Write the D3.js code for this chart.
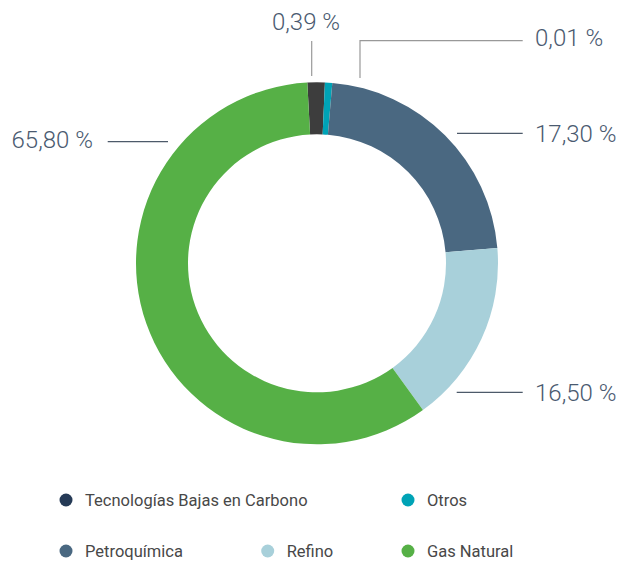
<!DOCTYPE html>
<html>
<head>
<meta charset="utf-8">
<script src="https://cdn.jsdelivr.net/npm/d3@7"></script>
<style>
  html, body { margin: 0; padding: 0; background: #fff; }
  svg { display: block; font-family: Roboto, "Noto Sans", sans-serif; }
</style>
</head>
<body>
<svg width="625" height="562"></svg>
<script>
// categorias y valores (porcentaje dibujado en el anillo) + etiquetas publicadas
var categories = ["Tecnologías Bajas en Carbono", "Otros", "Petroquímica", "Refino", "Gas Natural"];
var sliceValues = [1.55, 0.65, 22.3, 16.4, 59.1];
var valueLabels = ["0,39 %", "0,01 %", "17,30 %", "16,50 %", "65,80 %"];
var sliceColors = ["#3d3d3d", "#00a3b6", "#4a6881", "#a8d0da", "#56b046"];
var legendColors = ["#253a56", "#00a3b6", "#4a6881", "#a8d0da", "#56b046"];

var data = categories.map((c, i) => ({ name: c, value: sliceValues[i], label: valueLabels[i] }));

var svg = d3.select("svg");
var cx = 317, cy = 263.3;
var outerR = 181, innerR = 129;

var pie = d3.pie()
    .value(d => d.value)
    .sort(null)
    .startAngle(-3.07 * Math.PI / 180)
    .endAngle((360 - 3.07) * Math.PI / 180);

var arc = d3.arc().innerRadius(innerR).outerRadius(outerR);

var g = svg.append("g").attr("transform", `translate(${cx},${cy})`);
g.selectAll("path")
    .data(pie(data))
    .enter()
    .append("path")
    .attr("d", arc)
    .attr("fill", (d, i) => sliceColors[i]);

// lineas guia y etiquetas (colocadas a mano como en el original)
var annot = [
    { pts: [[311.7, 41], [311.7, 76]], tx: 306, ty: 30, anchor: "middle", stroke: "#999" },
    { pts: [[522.7, 40.7], [360, 40.7], [360, 78]], tx: 535, ty: 46, anchor: "start", stroke: "#999" },
    { pts: [[457, 133.3], [522.7, 133.3]], tx: 535, ty: 142, anchor: "start", stroke: "#4d5a6a" },
    { pts: [[456.7, 392.3], [522.7, 392.3]], tx: 535, ty: 401, anchor: "start", stroke: "#4d5a6a" },
    { pts: [[107.7, 141.7], [168, 141.7]], tx: 11.5, ty: 147.5, anchor: "start", stroke: "#4d5a6a" }
];

var line = d3.line();
svg.selectAll(".leader")
    .data(annot)
    .enter()
    .append("path")
    .attr("class", "leader")
    .attr("d", d => line(d.pts))
    .attr("fill", "none")
    .attr("stroke", d => d.stroke)
    .attr("stroke-width", 1.2);

svg.selectAll(".vlabel")
    .data(annot)
    .enter()
    .append("text")
    .attr("class", "vlabel")
    .attr("x", d => d.tx)
    .attr("y", d => d.ty)
    .attr("text-anchor", d => d.anchor)
    .attr("font-size", 24)
    .attr("font-weight", 300)
    .attr("fill", "#4a5a70")
    .text((d, i) => data[i].label);

// leyenda
var legendPos = [[66, 500], [408, 500], [66, 551], [267.7, 551], [408, 551]];
var leg = svg.selectAll(".leg")
    .data(data)
    .enter()
    .append("g")
    .attr("class", "leg")
    .attr("transform", (d, i) => `translate(${legendPos[i][0]},${legendPos[i][1]})`);
leg.append("circle")
    .attr("r", 6.5)
    .attr("fill", (d, i) => legendColors[i]);
leg.append("text")
    .attr("x", 19)
    .attr("y", 5.5)
    .attr("font-size", 16.5)
    .attr("fill", "#484848")
    .text(d => d.name);
</script>
</body>
</html>
